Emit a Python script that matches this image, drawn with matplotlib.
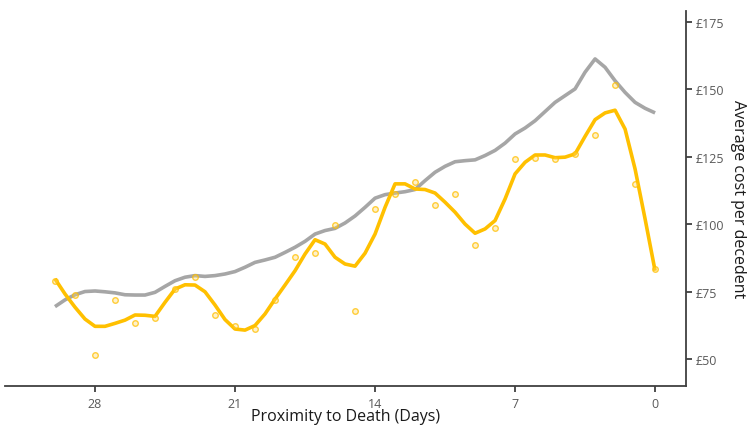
import matplotlib
matplotlib.use("Agg")
import matplotlib.pyplot as plt
from matplotlib.ticker import FuncFormatter

plt.rcParams['font.family'] = ['Open Sans', 'DejaVu Sans']

# Observed daily average cost (days before death)
point_days = list(range(30, -1, -1))
point_costs = [78.9, 73.7, 51.6, 72.0, 63.4, 65.3, 76.1, 80.4, 66.3, 62.4,
               61.0, 72.0, 87.7, 89.2, 99.7, 67.8, 105.6, 111.2, 115.5, 106.9,
               111.1, 92.2, 98.6, 124.1, 124.6, 124.2, 125.8, 133.0, 151.4, 114.9,
               83.4]

# Smoothed trend (yellow) read at half-day steps
line_days = [30 - 0.5 * i for i in range(61)]
yellow_trend = [79.7, 74.1, 69.2, 64.8, 62.1, 62.1, 63.2, 64.4, 66.3, 66.2,
                65.8, 71.0, 75.9, 77.5, 77.4, 74.9, 70.0, 64.6, 61.1, 60.7,
                62.4, 66.7, 72.2, 77.4, 82.7, 88.9, 94.2, 92.6, 87.7, 85.2,
                84.4, 89.2, 96.3, 106.2, 114.9, 114.9, 113.0, 112.8, 111.5, 108.1,
                104.4, 100.0, 96.6, 98.2, 101.3, 109.3, 118.6, 122.9, 125.6, 125.6,
                124.6, 124.8, 126.0, 132.5, 138.7, 141.2, 142.2, 135.2, 120.4, 101.9,
                82.7]

# Comparison trend (grey) read at half-day steps
grey_trend = [69.4, 71.9, 73.8, 75.0, 75.2, 74.9, 74.5, 73.8, 73.7, 73.7,
              74.7, 76.9, 79.0, 80.3, 80.9, 80.6, 80.9, 81.5, 82.4, 84.0,
              85.8, 86.7, 87.7, 89.5, 91.4, 93.6, 96.3, 97.6, 98.4, 100.4,
              103.0, 106.2, 109.6, 110.9, 111.5, 112.0, 112.8, 116.1, 119.2, 121.4,
              123.1, 123.5, 123.8, 125.4, 127.3, 130.0, 133.4, 135.6, 138.3, 141.7,
              145.1, 147.6, 150.1, 156.3, 161.2, 158.1, 153.1, 148.8, 145.1, 142.9,
              141.2]

x_ticks = [28, 21, 14, 7, 0]
y_ticks = [50, 75, 100, 125, 150, 175]

fig = plt.figure(figsize=(7.55, 4.31), dpi=100)
ax = fig.add_axes([0.0066, 0.1028, 0.9016, 0.8702])

ax.plot(line_days, grey_trend, color='#a6a6a6', lw=2.6, solid_capstyle='butt',
        solid_joinstyle='round', zorder=2)
ax.plot(line_days, yellow_trend, color='#ffc000', lw=2.6, solid_capstyle='butt',
        solid_joinstyle='round', zorder=3)
ax.scatter(point_days, point_costs, s=16, facecolor=(1, 0.85, 0.4, 0.35),
           edgecolor=(1, 0.75, 0.0, 0.75), linewidth=1.0, zorder=4)

ax.set_xlim(32.5, -1.53)
ax.set_ylim(40.1, 179.1)

ax.set_xticks(x_ticks)
ax.set_yticks(y_ticks)
ax.yaxis.set_major_formatter(FuncFormatter(lambda v, p: '£%d' % v))

ax.yaxis.tick_right()
ax.yaxis.set_label_position('right')
for s in ['top', 'left']:
    ax.spines[s].set_visible(False)
for s in ['bottom', 'right']:
    ax.spines[s].set_color('#404040')
    ax.spines[s].set_linewidth(1.3)

ax.tick_params(axis='both', colors='#404040', length=4, width=1.3,
               labelsize=9, labelcolor='#595959')
ax.tick_params(axis='y', pad=3)
ax.tick_params(axis='x', pad=4)

ax.set_xlabel('Proximity to Death (Days)', fontsize=11.5, color='#1a1a1a', labelpad=-1)
ax.set_ylabel('Average cost per decedent', fontsize=11.5, color='#1a1a1a',
              rotation=270, labelpad=16)

fig.savefig('out.png', dpi=100)
